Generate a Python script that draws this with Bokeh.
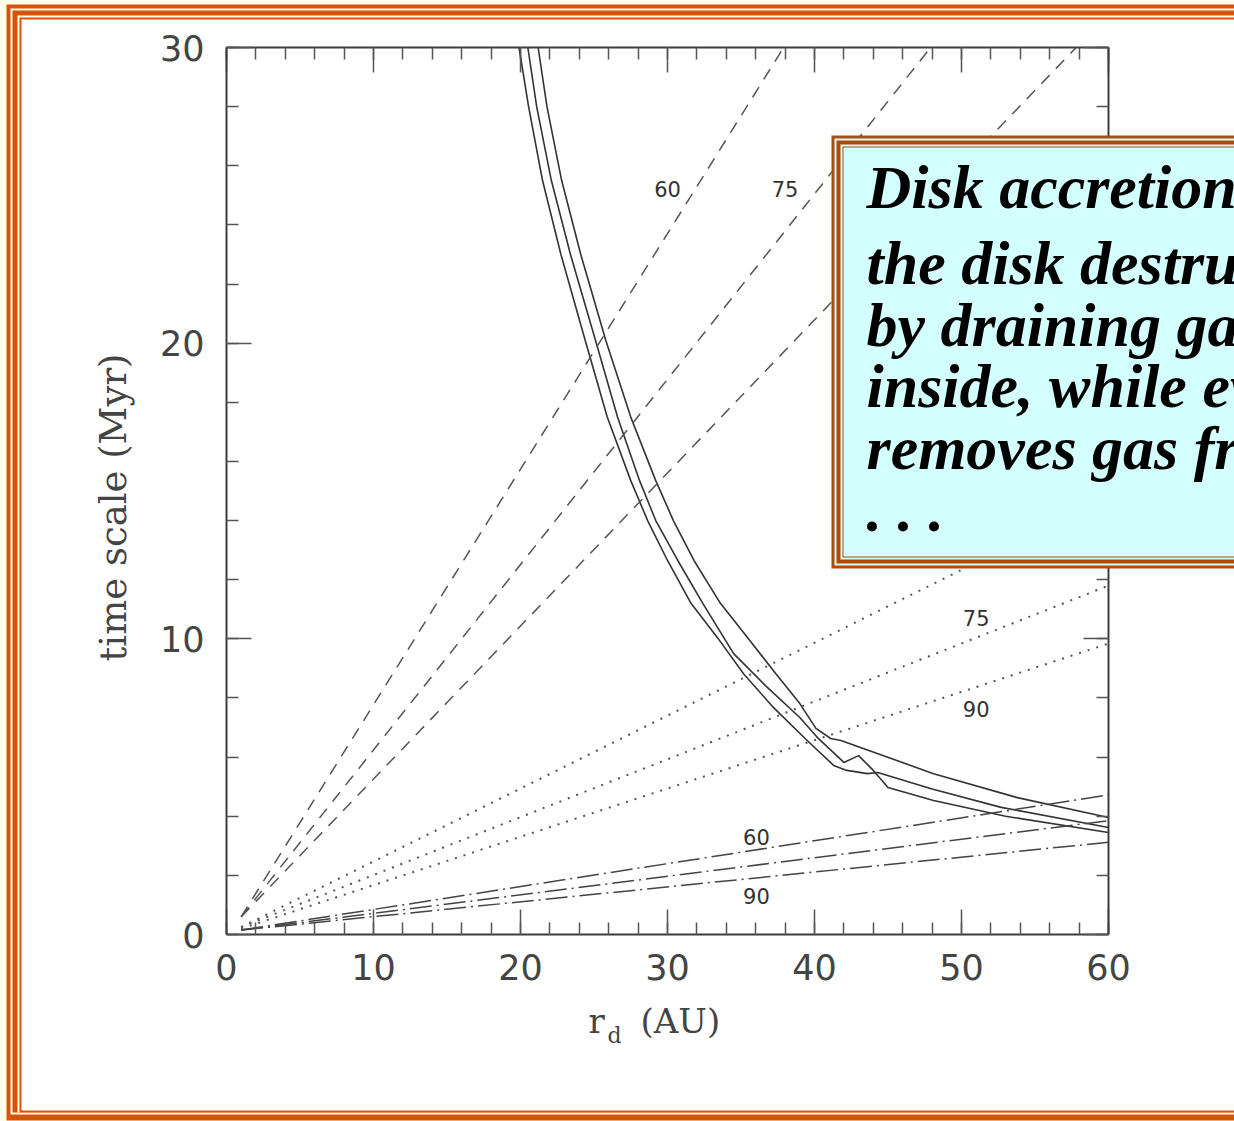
import math
from bokeh.plotting import figure
from bokeh.models import LinearAxis, FixedTicker, BoxAnnotation, Label, Range1d
from bokeh.embed import file_html
from bokeh.resources import INLINE

# ---- data: disk radius r_d (AU) vs. time scale (Myr) ----
# solid curves (three disk models)
rd_a = [19.9, 20.55, 21.5, 22.75, 24.4, 25.9, 27.5, 28.65, 30.0, 31.6, 33.4, 35.2, 37.2,
        39.5, 41.3, 42.2, 43.6, 44.3, 48.0, 52.7, 60.0]
t_a = [30.0, 28.0, 25.5, 23.0, 20.1, 17.5, 15.35, 14.0, 12.65, 11.2, 10.04, 8.8, 7.68,
       6.56, 5.72, 5.55, 5.44, 5.48, 4.92, 4.30, 3.62]
rd_b = [20.5, 21.1, 22.1, 23.4, 25.1, 26.6, 28.1, 29.2, 30.7, 32.4, 34.5, 36.7, 39.0,
        40.2, 42.0, 43.0, 44.0, 45.0, 48.1, 53.0, 60.0]
t_b = [30.0, 28.0, 25.5, 23.0, 20.1, 17.5, 15.35, 14.0, 12.65, 11.2, 9.5, 8.4, 7.34,
       6.66, 5.82, 6.05, 5.55, 4.97, 4.53, 4.0, 3.45]
rd_c = [21.2, 21.8, 22.8, 24.1, 25.8, 27.5, 29.2, 30.4, 31.8, 33.6, 35.6, 37.4, 39.0,
        40.1, 41.1, 41.8, 48.1, 53.8, 60.0]
t_c = [30.0, 28.0, 25.5, 23.0, 20.1, 17.5, 15.35, 14.0, 12.65, 11.2, 9.94, 8.8, 7.81,
       6.97, 6.63, 6.56, 5.44, 4.63, 3.96]

# dashed relations: start at 1 AU, run to the top of the axis (30 Myr)
rd_dash_60 = [1.0, 37.9]
t_dash_60 = [0.6, 30.0]
rd_dash_75 = [1.0, 47.9]
t_dash_75 = [0.6, 30.0]
rd_dash_90 = [1.0, 57.8]
t_dash_90 = [0.6, 30.0]

# dotted and dash-dotted relations, given at r_d = 1 and 60 AU
rd_line = [1.0, 60.0]
t_dot_60 = [0.25, 14.8]
t_dot_75 = [0.25, 11.8]
t_dot_90 = [0.2, 9.84]
t_dd_60 = [0.15, 4.72]
t_dd_75 = [0.15, 3.85]
t_dd_90 = [0.15, 3.12]

x_major = [0, 10, 20, 30, 40, 50, 60]
x_minor = list(range(0, 61, 2))
y_major = [0, 10, 20, 30]
y_minor = list(range(0, 31, 2))

# curve labels: (text, r_d, t)
curve_labels = [("60", 30.0, 25.2), ("75", 38.0, 25.2),
                ("75", 51.0, 10.72), ("90", 51.0, 7.64),
                ("60", 36.05, 3.31), ("90", 36.05, 1.29)]

box_lines = ["Disk accretion speeds up",
             "the disk destruction",
             "by draining gas from",
             "inside, while evaporation",
             "removes gas from outside",
             ". . ."]

SANS = "DejaVu Sans"
SERIF = "DejaVu Serif"
INK = "#3c3c3c"
ORANGE = "#d9520b"
CREAM = "#fffde4"
BROWN = "#b04a06"
CYAN = "#d4ffff"

# ---- page geometry (pixels) ----
W, H = 1234, 1121
AX_L, AX_R, AX_T, AX_B = 226, 1108, 47, 934     # where the axis box sits on the page
X0, X1, Y0, Y1 = 0, 60, 0, 30
sx = (AX_R - AX_L) / (X1 - X0)
sy = (AX_B - AX_T) / (Y1 - Y0)
x_range = Range1d(X0 - AX_L / sx, X1 + (W - AX_R) / sx)
y_range = Range1d(Y0 - (H - AX_B) / sy, Y1 + AX_T / sy)

p = figure(width=W, height=H, x_range=x_range, y_range=y_range,
           output_backend="svg", toolbar_location=None,
           x_axis_location=None, y_axis_location=None,
           min_border=0, background_fill_color=CREAM, border_fill_color=CREAM)
p.grid.visible = False
p.outline_line_color = None


def canvas_box(left, top, bottom, colour, level, right=W + 200):
    return BoxAnnotation(left=left, right=right, top=top, bottom=bottom,
                         left_units="canvas", right_units="canvas",
                         top_units="canvas", bottom_units="canvas",
                         fill_color=colour, fill_alpha=1, line_color=None,
                         level=level)


# ---- page frame: nested filled boxes below the data ----
frame_bands = [  # (left, top, bottom, colour)
    (6, 4, 1120, ORANGE),
    (10, 8, 1114, CREAM),
    (12, 10, 1112, ORANGE),
    (17, 15, 1112, CREAM),
    (19, 17, 1112, ORANGE),
    (21, 19, 1110, "white"),
]
for left, top, bottom, col in frame_bands:
    p.add_layout(canvas_box(left, top, bottom, col, "underlay"))

# ---- axis box: four axes pinned to the data limits, ticks pointing inwards ----
bottom_axis = LinearAxis(fixed_location=Y0, bounds=(X0, X1))
top_axis = LinearAxis(fixed_location=Y1, bounds=(X0, X1))
left_axis = LinearAxis(fixed_location=X0, bounds=(Y0, Y1))
right_axis = LinearAxis(fixed_location=X1, bounds=(Y0, Y1))
p.add_layout(bottom_axis, "below")
p.add_layout(top_axis, "above")
p.add_layout(left_axis, "left")
p.add_layout(right_axis, "right")

for ax in [bottom_axis, top_axis]:
    ax.ticker = FixedTicker(ticks=x_major, minor_ticks=x_minor)
for ax in [left_axis, right_axis]:
    ax.ticker = FixedTicker(ticks=y_major, minor_ticks=y_minor)

for ax in [bottom_axis, top_axis, left_axis, right_axis]:
    ax.axis_line_color = INK
    ax.axis_line_width = 2
    ax.major_tick_in = 25
    ax.major_tick_out = 0
    ax.minor_tick_in = 12
    ax.minor_tick_out = 0
    ax.major_tick_line_color = "#555555"
    ax.major_tick_line_width = 1.5
    ax.minor_tick_line_color = "#555555"
    ax.minor_tick_line_width = 1.5
    ax.major_label_text_font = SANS
    ax.major_label_text_font_size = "35px"
    ax.major_label_text_color = "#444444"

for ax in [top_axis, right_axis]:
    ax.major_label_text_color = None
    ax.major_label_text_font_size = "10px"
    ax.major_label_standoff = 0

left_axis.major_label_standoff = 22
bottom_axis.major_label_standoff = 19

# ---- curves ----
for xs, ys in [(rd_a, t_a), (rd_b, t_b), (rd_c, t_c)]:
    p.line(xs, ys, line_color="#333333", line_width=1.6, line_join="round")

for xs, ys in [(rd_dash_60, t_dash_60), (rd_dash_75, t_dash_75), (rd_dash_90, t_dash_90)]:
    p.line(xs, ys, line_color="#555555", line_width=1.5, line_dash="12 9")
for ys in [t_dot_60, t_dot_75, t_dot_90]:
    p.line(rd_line, ys, line_color="#555555", line_width=2, line_dash="2 7")
for ys in [t_dd_60, t_dd_75, t_dd_90]:
    p.line(rd_line, ys, line_color="#444444", line_width=1.5, line_dash="22 5 2 5")

for txt, x, y in curve_labels:
    p.add_layout(Label(x=x, y=y, text=txt, text_font=SANS, text_font_size="21px",
                       text_color="#333333", text_align="center", text_baseline="middle"))

# ---- axis titles ----
p.add_layout(Label(x=113, y=507, x_units="canvas", y_units="canvas", angle=math.pi / 2,
                   text="time scale (Myr)", text_font=SERIF, text_font_size="37px",
                   text_color="#444444", text_align="center", text_baseline="alphabetic"))
p.add_layout(Label(x=588, y=1020, x_units="canvas", y_units="canvas", text="r",
                   text_font=SERIF, text_font_size="34px", text_color="#444444",
                   text_baseline="alphabetic"))
p.add_layout(Label(x=607, y=1035, x_units="canvas", y_units="canvas", text="d",
                   text_font=SERIF, text_font_size="22px", text_color="#444444",
                   text_baseline="alphabetic"))
p.add_layout(Label(x=640, y=1020, x_units="canvas", y_units="canvas", text="(AU)",
                   text_font=SERIF, text_font_size="34px", text_color="#444444",
                   text_baseline="alphabetic"))

# ---- note box over the plot ----
note_bands = [  # (left, top, bottom, colour)
    (831, 135, 568, BROWN),
    (834, 138, 565, CYAN),
    (836, 140, 563, BROWN),
    (840, 144, 559, CYAN),
    (842, 146, 557, BROWN),
    (843, 147, 556, CYAN),
]
for left, top, bottom, col in note_bands:
    p.add_layout(canvas_box(left, top, bottom, col, "overlay"))

baselines = [186, 262, 324, 385, 447, 509]
for line, base in zip(box_lines, baselines):
    p.add_layout(Label(x=866, y=base, x_units="canvas", y_units="canvas", text=line,
                       text_font="Liberation Serif", text_font_style="bold italic",
                       text_font_size="62px", text_color="black",
                       text_baseline="alphabetic", level="overlay"))

open("out.html", "w").write(file_html(p, INLINE))
